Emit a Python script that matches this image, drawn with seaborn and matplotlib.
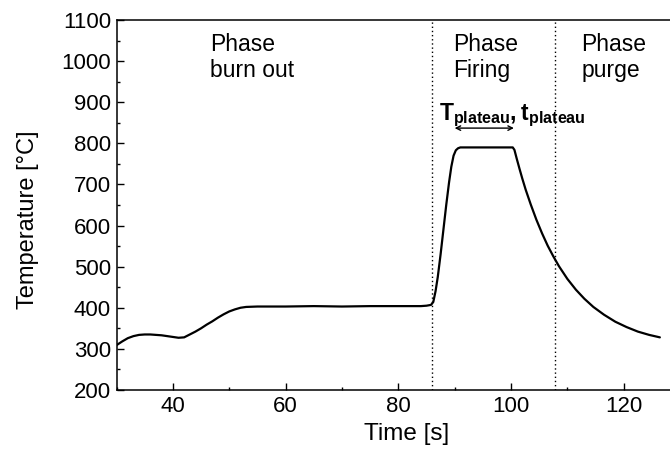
import matplotlib
matplotlib.use("Agg")
import matplotlib.pyplot as plt
from matplotlib.ticker import MultipleLocator
import seaborn as sns
import pandas as pd

# temperature profile
time_s = [30, 31, 32, 33, 34, 35, 36, 37, 38, 39, 40, 41, 42, 43, 44, 45, 46, 47,
          48, 49, 50, 51, 52, 53, 55, 60, 65, 70, 75, 80, 84, 85, 85.8, 86.2,
          86.6, 87, 87.5, 88, 88.5, 89, 89.4, 89.8, 90.2, 90.6, 91, 95, 100,
          100.3, 100.6, 101, 101.5, 102, 102.6, 103.5, 104.5, 105.5, 106.5,
          107.5, 108.5, 110, 111.5, 113, 114.6, 116.5, 118.5, 120.5, 122.5,
          124.5, 126.4]
temp_c = [309, 318, 326, 331, 334, 335, 335, 334, 333, 331, 329, 327, 328, 335,
          342, 350, 359, 367, 376, 384, 391, 396, 400, 402, 403, 403, 404, 403,
          404, 404, 404, 405, 407, 414, 440, 475, 530, 590, 650, 705, 743, 770,
          783, 788, 790, 790, 790, 790, 784, 763, 738, 714, 687, 651, 614, 581,
          551, 525, 501, 470, 444, 422, 402, 383, 366, 353, 342, 334, 328]

phase_bounds = [86, 107.8]
phase_labels = ["Phase\nburn out", "Phase\nFiring", "Phase\npurge"]
phase_label_x = [46.6, 89.7, 112.5]

df = pd.DataFrame({"Time": time_s, "Temperature": temp_c})

sns.set_style("ticks")
plt.rcParams["font.family"] = ["Liberation Sans", "DejaVu Sans"]
plt.rcParams["mathtext.fontset"] = "custom"
plt.rcParams["mathtext.rm"] = "Liberation Sans"
plt.rcParams["mathtext.bf"] = "Liberation Sans:bold"
for key in ["text.color", "axes.labelcolor", "xtick.color", "ytick.color",
            "axes.edgecolor"]:
    plt.rcParams[key] = "black"

fig = plt.figure(figsize=(6.7, 4.51), dpi=100)
ax = fig.add_axes([0.1739, 0.1353, 0.8261, 0.8204])

sns.lineplot(data=df, x="Time", y="Temperature", color="black", linewidth=1.6,
             sort=False, estimator=None, ax=ax)

for xb in phase_bounds:
    ax.axvline(xb, color="black", linestyle=(0, (1, 2)), linewidth=1.0)

for lab, xl in zip(phase_labels, phase_label_x):
    ax.text(xl, 1068, lab, fontsize=16.5, ha="left", va="top", linespacing=1.15)

ax.text(87.2, 835, r"$\mathbf{T_{plateau}, t_{plateau}}$", fontsize=16.5,
        ha="left", va="bottom")
ax.annotate("", xy=(89.5, 837), xytext=(101, 837),
            arrowprops=dict(arrowstyle="<->", color="black", lw=1.0,
                            mutation_scale=8))

ax.set_xlim(30, 128.2)
ax.set_ylim(200, 1100)
ax.xaxis.set_major_locator(MultipleLocator(20))
ax.xaxis.set_minor_locator(MultipleLocator(10))
ax.yaxis.set_major_locator(MultipleLocator(100))
ax.yaxis.set_minor_locator(MultipleLocator(50))
ax.tick_params(which="both", direction="in", width=1.0, labelsize=16,
               top=False, right=False)
ax.tick_params(which="major", length=5)
ax.tick_params(which="minor", length=2.5)
ax.tick_params(axis="x", pad=4)
ax.tick_params(axis="y", pad=4)

for side in ["left", "bottom", "top"]:
    ax.spines[side].set_linewidth(1.1)
ax.spines["right"].set_visible(False)

ax.set_xlabel("Time [s]", fontsize=17.5)
ax.set_ylabel("Temperature [°C]", fontsize=17)
ax.xaxis.set_label_coords(0.525, -0.088)
ax.yaxis.set_label_coords(-0.14, 0.46)

fig.savefig("out.png", dpi=100)
